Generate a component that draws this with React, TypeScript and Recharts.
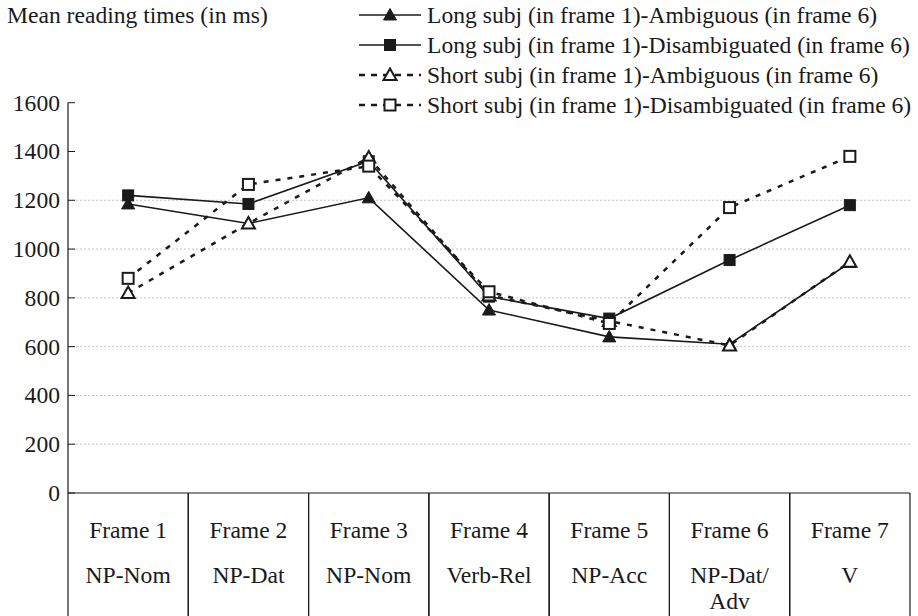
import React from 'react';
import { ComposedChart, Line, XAxis, YAxis, ReferenceLine, Legend } from 'recharts';

const frames = ['Frame 1', 'Frame 2', 'Frame 3', 'Frame 4', 'Frame 5', 'Frame 6', 'Frame 7'];
const phrases = ['NP-Nom', 'NP-Dat', 'NP-Nom', 'Verb-Rel', 'NP-Acc', 'NP-Dat/\nAdv', 'V'];

const longAmbiguous = [1185, 1105, 1210, 750, 640, 610, 945];
const longDisambiguated = [1220, 1185, 1360, 805, 715, 955, 1180];
const shortAmbiguous = [820, 1105, 1375, 810, 705, 605, 948];
const shortDisambiguated = [880, 1265, 1340, 825, 695, 1170, 1380];

const yTicks = [0, 200, 400, 600, 800, 1000, 1200, 1400, 1600];
const gridValues = [200, 400, 600, 800, 1000, 1200];

const data = frames.map((frame, i) => ({
  frame,
  phrase: phrases[i],
  longAmb: longAmbiguous[i],
  longDis: longDisambiguated[i],
  shortAmb: shortAmbiguous[i],
  shortDis: shortDisambiguated[i],
}));

type Shape = 'triangle' | 'square';

const series: { key: string; name: string; dashed: boolean; shape: Shape; filled: boolean }[] = [
  { key: 'longAmb', name: 'Long subj (in frame 1)-Ambiguous (in frame 6)', dashed: false, shape: 'triangle', filled: true },
  { key: 'longDis', name: 'Long subj (in frame 1)-Disambiguated (in frame 6)', dashed: false, shape: 'square', filled: true },
  { key: 'shortAmb', name: 'Short subj (in frame 1)-Ambiguous (in frame 6)', dashed: true, shape: 'triangle', filled: false },
  { key: 'shortDis', name: 'Short subj (in frame 1)-Disambiguated (in frame 6)', dashed: true, shape: 'square', filled: false },
];

const FONT = '"Liberation Serif", "Times New Roman", serif';
const FS = 23.6;
const INK = '#1a1a1a';
const COL_W = 842 / 7;
const DASH = '5 7';

const Marker = ({ cx, cy, shape, filled }: { cx: number; cy: number; shape: Shape; filled: boolean }) => {
  const fill = filled ? INK : '#fff';
  if (shape === 'triangle') {
    return (
      <polygon
        points={`${cx},${cy - 6.5} ${cx + 6.5},${cy + 5} ${cx - 6.5},${cy + 5}`}
        fill={fill}
        stroke={INK}
        strokeWidth={filled ? 1 : 2}
        strokeLinejoin="miter"
      />
    );
  }
  return <rect x={cx - 5.5} y={cy - 5.5} width={11} height={11} fill={fill} stroke={INK} strokeWidth={filled ? 1 : 2} />;
};

const YTick = ({ x, y, payload }: any) => (
  <g>
    <line x1={x + 8} x2={x + 15} y1={y} y2={y} stroke={INK} strokeWidth={1} />
    <text x={x} y={y} textAnchor="end" dominantBaseline="central" fontFamily={FONT} fontSize={FS} fill={INK}>
      {payload.value}
    </text>
  </g>
);

const XTick = ({ x, y, payload, index }: any) => {
  const lines = phrases[index].split('\n');
  return (
    <g>
      <line x1={x - COL_W / 2} x2={x - COL_W / 2} y1={y} y2={616} stroke={INK} strokeWidth={1.2} />
      <line x1={x + COL_W / 2} x2={x + COL_W / 2} y1={y} y2={616} stroke={INK} strokeWidth={1.2} />
      <text x={x} y={y + 37} textAnchor="middle" dominantBaseline="central" fontFamily={FONT} fontSize={FS} fill={INK}>
        {payload.value}
      </text>
      {lines.map((l: string, i: number) => (
        <text key={i} x={x} y={y + 82 + i * 26} textAnchor="middle" dominantBaseline="central" fontFamily={FONT} fontSize={FS} fill={INK}>
          {l}
        </text>
      ))}
    </g>
  );
};

const LegendContent = () => (
  <div style={{ fontFamily: FONT, fontSize: FS, color: INK }}>
    {series.map((s) => (
      <div key={s.key} style={{ display: 'flex', alignItems: 'center', height: 30, whiteSpace: 'nowrap' }}>
        <svg width={64} height={30} style={{ marginRight: 5 }}>
          <line
            x1={1}
            x2={63}
            y1={15}
            y2={15}
            stroke={INK}
            strokeWidth={s.dashed ? 2.5 : 1.6}
            strokeDasharray={s.dashed ? '6 6' : undefined}
          />
          <Marker cx={32} cy={15} shape={s.shape} filled={s.filled} />
        </svg>
        <span>{s.name}</span>
      </div>
    ))}
  </div>
);

export default function App() {
  return (
    <div style={{ position: 'absolute', left: 0, top: 0, width: 918, height: 616, background: '#fff' }}>
      <div style={{ position: 'absolute', left: 7, top: 0, height: 30, lineHeight: '30px', fontFamily: FONT, fontSize: FS, color: INK }}>
        Mean reading times (in ms)
      </div>
      <ComposedChart width={918} height={616} data={data} margin={{ top: 102.7, right: 8, bottom: 0, left: 0 }}>
        {gridValues.map((v) => (
          <ReferenceLine key={v} y={v} stroke="#c4c4c4" strokeWidth={1} strokeDasharray="2 2" />
        ))}
        <XAxis
          dataKey="frame"
          scale="band"
          height={123}
          tickSize={0}
          tickMargin={0}
          tickLine={false}
          axisLine={{ stroke: INK, strokeWidth: 1.2 }}
          tick={<XTick />}
          interval={0}
        />
        <YAxis
          width={68}
          domain={[0, 1600]}
          ticks={yTicks}
          tickSize={0}
          tickMargin={8}
          tickLine={false}
          axisLine={{ stroke: INK, strokeWidth: 1.2 }}
          tick={<YTick />}
          interval={0}
        />
        <Legend
          layout="vertical"
          align="center"
          verticalAlign="middle"
          content={<LegendContent />}
          wrapperStyle={{ position: 'absolute', top: 0, left: 358, width: 560 }}
        />
        {series.map((s) => (
          <Line
            key={s.key}
            dataKey={s.key}
            name={s.name}
            stroke={INK}
            strokeWidth={s.dashed ? 2.5 : 1.6}
            strokeDasharray={s.dashed ? DASH : undefined}
            isAnimationActive={false}
            dot={(p: any) => <Marker key={`${s.key}-${p.index}`} cx={p.cx} cy={p.cy} shape={s.shape} filled={s.filled} />}
            activeDot={false}
          />
        ))}
      </ComposedChart>
    </div>
  );
}
